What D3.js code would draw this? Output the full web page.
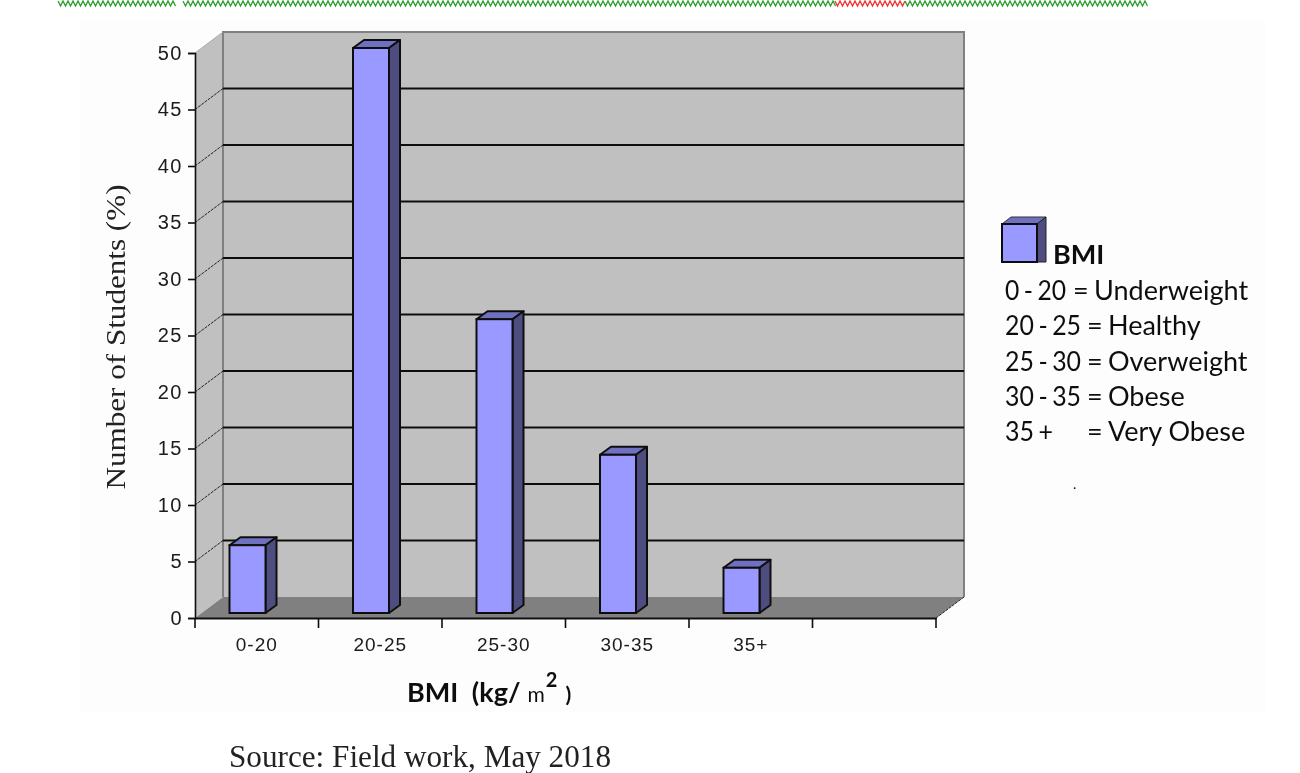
<!DOCTYPE html>
<html>
<head>
<meta charset="utf-8">
<script src="https://cdn.jsdelivr.net/npm/d3@7"></script>
<style>
    html, body { margin: 0; padding: 0; background: #fff; }
    svg { display: block; }
    .axis-text { font-family: "Liberation Sans", sans-serif; fill: #1a1a1a; }
    .y-text { font-size: 20px; letter-spacing: 1.5px; }
    .x-text { font-size: 19px; letter-spacing: 1px; }
    .calibri { font-family: Lato, sans-serif; fill: #111; }
    .serif { font-family: "Liberation Serif", serif; fill: #222; }
    .legend-text { font-size: 27px; }
</style>
</head>
<body>
<div id="chart"></div>
<script>
const categories = ["0-20", "20-25", "25-30", "30-35", "35+", ""];
const students = [6, 50, 26, 14, 4];
const yTicks = [0, 5, 10, 15, 20, 25, 30, 35, 40, 45, 50];
const legendRanges = ["0 - 20", "20 - 25", "25 - 30", "30 - 35", "35 +"];
const legendNames = ["Underweight", "Healthy", "Overweight", "Obese", "Very Obese"];

function main() {
    const width = 1300, height = 773;
    // 3D offset of the back wall and of one bar
    const depth = {x: 28, y: 21}, barDepth = {x: 11, y: 8};

    const svg = d3.select("#chart").append("svg")
        .attr("width", width)
        .attr("height", height);

    svg.append("defs").append("filter")
        .attr("id", "soft")
        .append("feGaussianBlur")
        .attr("stdDeviation", 0.55);

    // faint page tint of the scan
    svg.append("rect")
        .attr("x", 80).attr("y", 20)
        .attr("width", 1185).attr("height", 692)
        .attr("fill", "#fdfdfd");

    const root = svg.append("g").attr("filter", "url(#soft)");

    const x = d3.scaleBand().domain(categories).range([195, 936]);
    const y = d3.scaleLinear().domain([0, 50]).range([618, 53]);

    const x0 = x.range()[0], x1 = x.range()[1], y0 = y(0), y50 = y(50);

    // spell-check squiggles along the top edge
    const squiggles = [[58, 175, "#2f9f2f"], [183, 835, "#2f9f2f"], [835, 905, "#f53030"], [905, 1147, "#2f9f2f"]];
    squiggles.forEach(function(s) {
        const pts = d3.range(s[0], s[1] + 1, 2.5).map(function(px, i) { return [px, i % 2 ? 6 : 1]; });
        root.append("path")
            .attr("d", d3.line()(pts))
            .attr("fill", "none")
            .attr("stroke", s[2])
            .attr("stroke-width", 1.3);
    });

    // walls
    const poly = function(pts, fill, stroke) {
        root.append("polygon")
            .attr("points", pts.map(function(p) { return p.join(","); }).join(" "))
            .attr("fill", fill)
            .attr("stroke", stroke || "none");
    };
    poly([[x0, y50], [x0 + depth.x, y50 - depth.y], [x0 + depth.x, y0 - depth.y], [x0, y0]], "#c0c0c0");
    poly([[x0 + depth.x, y50 - depth.y], [x1 + depth.x, y50 - depth.y], [x1 + depth.x, y0 - depth.y], [x0 + depth.x, y0 - depth.y]], "#c0c0c0");
    poly([[x0, y0], [x0 + depth.x, y0 - depth.y], [x1 + depth.x, y0 - depth.y], [x1, y0]], "#808080");

    root.append("path")
        .attr("d", `M${x0 + depth.x},${y0 - depth.y}V${y50 - depth.y}H${x1 + depth.x}V${y0 - depth.y}`)
        .attr("fill", "none")
        .attr("stroke", "#808080")
        .attr("stroke-width", 2);
    root.append("line")
        .attr("x1", x0).attr("y1", y50)
        .attr("x2", x0 + depth.x).attr("y2", y50 - depth.y)
        .attr("stroke", "#a8a8a8");

    // gridlines, back wall and side wall
    const gridTicks = yTicks.filter(function(d) { return d > 0 && d < 50; });
    root.selectAll(".grid").data(gridTicks).enter().append("line")
        .attr("x1", x0 + depth.x).attr("x2", x1 + depth.x)
        .attr("y1", function(d) { return y(d) - depth.y; })
        .attr("y2", function(d) { return y(d) - depth.y; })
        .attr("stroke", "#111")
        .attr("stroke-width", 2);
    root.selectAll(".grid-side").data(gridTicks).enter().append("line")
        .attr("x1", x0).attr("x2", x0 + depth.x)
        .attr("y1", function(d) { return y(d); })
        .attr("y2", function(d) { return y(d) - depth.y; })
        .attr("stroke", "#222")
        .attr("stroke-width", 1)
        .attr("stroke-dasharray", "3 1");
    root.append("line")
        .attr("x1", x1).attr("y1", y0)
        .attr("x2", x1 + depth.x).attr("y2", y0 - depth.y)
        .attr("stroke", "#222")
        .attr("stroke-dasharray", "3 1");

    // bars
    const barX = function(i) { return x(categories[i]) + 34.5; };
    const barW = 36, barBase = y0 - 5;
    const bars = root.selectAll(".bar").data(students).enter().append("g").attr("class", "bar");
    const barTop = function(d) { return barBase - (y0 - y(d)); };
    const barPoly = function(fn, fill) {
        bars.append("polygon")
            .attr("points", function(d, i) {
                return fn(barX(i), barTop(d)).map(function(p) { return p.join(","); }).join(" ");
            })
            .attr("fill", fill)
            .attr("stroke", "#111")
            .attr("stroke-width", 2)
            .attr("stroke-linejoin", "round");
    };
    barPoly(function(bx, t) {
        return [[bx, t], [bx + barDepth.x, t - barDepth.y], [bx + barW + barDepth.x, t - barDepth.y], [bx + barW, t]];
    }, "#7070c0");
    barPoly(function(bx, t) {
        return [[bx + barW, t], [bx + barW + barDepth.x, t - barDepth.y], [bx + barW + barDepth.x, barBase - barDepth.y], [bx + barW, barBase]];
    }, "#4d4d80");
    bars.append("rect")
        .attr("x", function(d, i) { return barX(i); })
        .attr("y", barTop)
        .attr("width", barW)
        .attr("height", function(d) { return barBase - barTop(d); })
        .attr("fill", "#9999ff")
        .attr("stroke", "#111")
        .attr("stroke-width", 2);

    // Y axis
    const yAxis = root.append("g")
        .attr("transform", `translate(${x0}, 0)`)
        .call(d3.axisLeft(y).tickValues(yTicks).tickSize(7).tickPadding(5));
    yAxis.selectAll("path, line").attr("stroke", "#111").attr("stroke-width", 1.6);
    yAxis.selectAll("text").attr("class", "axis-text y-text").attr("font-family", null).attr("font-size", null).attr("fill", null);

    // X axis: labels sit in the bands, ticks on the band edges
    const xAxis = root.append("g")
        .attr("transform", `translate(0, ${y0})`)
        .call(d3.axisBottom(x).tickSize(0).tickPadding(20));
    xAxis.select("path").attr("stroke", "#111").attr("stroke-width", 2);
    xAxis.selectAll("text").attr("class", "axis-text x-text").attr("font-family", null).attr("font-size", null).attr("fill", null);
    root.selectAll(".x-edge").data(categories.concat(["end"])).enter().append("line")
        .attr("x1", function(d, i) { return x0 + i * x.step(); })
        .attr("x2", function(d, i) { return x0 + i * x.step(); })
        .attr("y1", y0).attr("y2", y0 + 10)
        .attr("stroke", "#111")
        .attr("stroke-width", 1.6);

    // axis titles
    root.append("text")
        .attr("class", "serif")
        .attr("transform", "translate(124.5, 337) rotate(270)")
        .attr("text-anchor", "middle")
        .attr("textLength", 305)
        .attr("lengthAdjust", "spacingAndGlyphs")
        .style("font-size", "28px")
        .text("Number of Students (%)");

    const bmi = root.append("text")
        .attr("class", "calibri")
        .attr("x", 407).attr("y", 702)
        .style("font-size", "27px")
        .style("font-weight", "bold")
        .style("word-spacing", "7px");
    bmi.append("tspan").text("BMI (kg/");
    bmi.append("tspan").attr("dx", 7).style("font-size", "21px").style("font-weight", "normal").text("m");
    bmi.append("tspan").attr("dy", -15).attr("dx", 1).style("font-size", "20px").text("2");
    bmi.append("tspan").attr("dy", 15).attr("dx", 8).style("font-size", "21px").text(")");

    root.append("text")
        .attr("class", "serif")
        .attr("x", 229).attr("y", 767)
        .style("font-size", "31px")
        .attr("textLength", 382)
        .attr("lengthAdjust", "spacingAndGlyphs")
        .text("Source: Field work, May 2018");

    // legend
    const key = root.append("g").attr("transform", "translate(1002, 224)");
    const keyW = 35, keyH = 38, keyD = {x: 9, y: 7};
    key.append("polygon")
        .attr("points", `0,0 ${keyD.x},${-keyD.y} ${keyW + keyD.x},${-keyD.y} ${keyW},0`)
        .attr("fill", "#7070c0").attr("stroke", "#333");
    key.append("polygon")
        .attr("points", `${keyW},0 ${keyW + keyD.x},${-keyD.y} ${keyW + keyD.x},${keyH} ${keyW},${keyH}`)
        .attr("fill", "#4d4d80").attr("stroke", "#222");
    key.append("rect")
        .attr("width", keyW).attr("height", keyH)
        .attr("fill", "#9999ff").attr("stroke", "#111").attr("stroke-width", 2);

    root.append("text")
        .attr("class", "calibri legend-text")
        .attr("x", 1053).attr("y", 264)
        .style("font-weight", "bold")
        .text("BMI");

    const rowY = d3.scalePoint().domain(legendRanges).range([300, 441]);
    const legendRow = root.selectAll(".legend-row").data(legendRanges).enter().append("g");
    legendRow.append("text")
        .attr("class", "calibri legend-text")
        .attr("x", 1005)
        .attr("y", function(d) { return rowY(d); })
        .style("word-spacing", "-2px")
        .attr("textLength", function(d, i) { return i === 0 ? 61 : (i === 4 ? 48 : 76); })
        .attr("lengthAdjust", "spacingAndGlyphs")
        .text(function(d) { return d; });
    legendRow.append("text")
        .attr("class", "calibri legend-text")
        .attr("x", function(d, i) { return i === 0 ? 1073 : 1087; })
        .attr("y", function(d) { return rowY(d); })
        .text("=");
    legendRow.append("text")
        .attr("class", "calibri legend-text")
        .attr("x", function(d, i) { return i === 0 ? 1094 : 1108; })
        .attr("y", function(d) { return rowY(d); })
        .text(function(d, i) { return legendNames[i]; });

    root.append("text")
        .attr("class", "calibri")
        .attr("x", 1073).attr("y", 489)
        .style("font-size", "14px")
        .text(".");
}

main()
</script>
</body>
</html>
